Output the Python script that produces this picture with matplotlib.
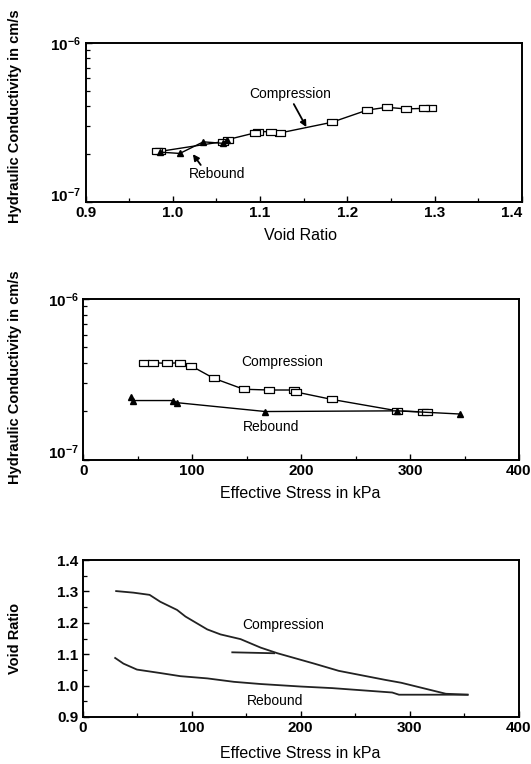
import matplotlib
matplotlib.use("Agg")
import matplotlib.pyplot as plt
from matplotlib.ticker import MultipleLocator, LogLocator, NullFormatter, FixedLocator, FixedFormatter

plt.rcParams['font.family'] = ['Liberation Sans', 'DejaVu Sans']
plt.rcParams['mathtext.fontset'] = 'custom'
plt.rcParams['mathtext.rm'] = 'Liberation Sans'
plt.rcParams['mathtext.bf'] = 'Liberation Sans:bold'

# --- hydraulic conductivity vs void ratio ---
vr_comp = [1.296, 1.288, 1.267, 1.245, 1.223, 1.182, 1.123, 1.113, 1.098, 1.094,
           1.063, 1.058, 0.985, 0.982]
k_vr_comp = [3.88e-7, 3.88e-7, 3.85e-7, 3.94e-7, 3.79e-7, 3.17e-7, 2.72e-7, 2.77e-7,
             2.77e-7, 2.72e-7, 2.47e-7, 2.40e-7, 2.08e-7, 2.08e-7]
vr_reb = [0.985, 1.008, 1.035, 1.057, 1.062]
k_vr_reb = [2.06e-7, 2.02e-7, 2.39e-7, 2.34e-7, 2.45e-7]

# --- hydraulic conductivity vs effective stress ---
st_comp = [56, 64, 77, 89, 99, 119.6, 147.2, 170.2, 193.2, 195.7, 227.9, 288.3, 311.5, 315.9]
k_st_comp = [4.01e-7, 4.01e-7, 3.97e-7, 4.01e-7, 3.83e-7, 3.21e-7, 2.74e-7, 2.71e-7,
             2.71e-7, 2.63e-7, 2.37e-7, 2.01e-7, 1.98e-7, 1.98e-7]
st_reb = [345.9, 288.3, 167.2, 85.9, 82.8, 46.0, 43.6]
k_st_reb = [1.92e-7, 2.01e-7, 1.99e-7, 2.26e-7, 2.33e-7, 2.33e-7, 2.46e-7]

# --- void ratio vs effective stress ---
e_st_comp = [30.7, 46.6, 61.4, 71.2, 86.6, 94.3, 114.3, 126.5, 144.9, 163.3, 178.8,
             212.5, 235.0, 278.0, 292.4, 333.3, 353.3]
e_comp = [1.301, 1.296, 1.289, 1.267, 1.241, 1.220, 1.179, 1.163, 1.148, 1.121, 1.103,
          1.070, 1.047, 1.018, 1.009, 0.974, 0.971]
e_st_reb = [353.3, 290.3, 284.1, 229.0, 200.3, 163.4, 138.8, 114.3, 89.7, 71.2, 49.8, 37.4, 29.8]
e_reb = [0.971, 0.971, 0.978, 0.992, 0.997, 1.005, 1.012, 1.023, 1.030, 1.040, 1.051, 1.070, 1.088]
e_st_reload = [137.3, 175.7]
e_reload = [1.106, 1.103]

W, H = 531, 764
fig = plt.figure(figsize=(W / 100, H / 100), dpi=100)


def box(l, r, t, b):
    return [l / W, 1 - b / H, (r - l) / W, (b - t) / H]


ax1 = fig.add_axes(box(85.5, 522, 43, 202))
ax2 = fig.add_axes(box(83.3, 519, 299, 459.5))
ax3 = fig.add_axes(box(82.7, 518.5, 560, 717))

rect = [(-1.7, -1), (1.7, -1), (1.7, 1), (-1.7, 1), (-1.7, -1)]
sq_kw = dict(color='black', lw=1.0, marker=rect, ms=7, mfc='white', mec='black', mew=0.9)
tri_kw = dict(color='black', lw=1.0, marker='^', ms=4.5, mfc='black', mec='black')


def style(ax):
    for s in ax.spines.values():
        s.set_linewidth(1.4)
    ax.tick_params(which='both', direction='in', top=False, right=False)
    ax.tick_params(which='major', length=4, width=1.0, pad=3)
    ax.tick_params(which='minor', length=3, width=0.9)
    for lab in ax.get_xticklabels() + ax.get_yticklabels():
        lab.set_fontsize(11)
        lab.set_fontweight('bold')


def log_axis(ax):
    ax.set_yscale('log')
    ax.set_ylim(1e-7, 1e-6)
    ax.yaxis.set_major_locator(FixedLocator([1e-7, 1e-6]))
    ax.yaxis.set_major_formatter(FixedFormatter([r'$\mathbf{10^{-7}}$', r'$\mathbf{10^{-6}}$']))
    ax.yaxis.set_minor_locator(LogLocator(base=10, subs=range(2, 10)))
    ax.yaxis.set_minor_formatter(NullFormatter())


def raise_bottom_label(ax):
    # lift the lowest y tick label so it clears the x tick labels
    ax.yaxis.get_major_ticks()[0].label1.set_verticalalignment('baseline')


note = dict(ha='center', va='center', fontsize=10)

# Panel 1
ax1.plot(vr_comp, k_vr_comp, **sq_kw, zorder=3)
ax1.plot(vr_reb, k_vr_reb, **tri_kw, zorder=4)
ax1.set_xlim(0.9, 1.4)
log_axis(ax1)
ax1.xaxis.set_major_locator(FixedLocator([0.9, 1.0, 1.1, 1.2, 1.3, 1.4]))
ax1.xaxis.set_minor_locator(MultipleLocator(0.05))
ax1.xaxis.set_major_formatter(plt.FuncFormatter(lambda v, p: f"{v:.1f}"))
ax1.text(1.134, 4.78e-7, 'Compression', **note)
ax1.text(1.051, 1.50e-7, 'Rebound', **note)
arrow = dict(arrowstyle='-|>', color='black', lw=1.3, mutation_scale=9, shrinkA=0, shrinkB=0)
ax1.annotate('', xy=(1.153, 2.96e-7), xytext=(1.1386, 4.13e-7), arrowprops=arrow)
ax1.annotate('', xy=(1.023, 2.0e-7), xytext=(1.032, 1.71e-7), arrowprops=arrow)
style(ax1)
raise_bottom_label(ax1)
# keep the last x label inside the figure edge
ax1.xaxis.get_major_ticks()[-1].label1.set_horizontalalignment('right')

# Panel 2
ax2.plot(st_comp, k_st_comp, **sq_kw, zorder=3)
ax2.plot(st_reb, k_st_reb, **tri_kw, zorder=4)
ax2.set_xlim(0, 400)
log_axis(ax2)
ax2.xaxis.set_major_locator(MultipleLocator(100))
ax2.xaxis.set_minor_locator(MultipleLocator(50))
ax2.text(182.5, 4.07e-7, 'Compression', **note)
ax2.text(172.2, 1.60e-7, 'Rebound', **note)
style(ax2)
raise_bottom_label(ax2)

# Panel 3
ax3.plot(e_st_comp, e_comp, color='#222222', lw=1.3)
ax3.plot(e_st_reb, e_reb, color='#222222', lw=1.3)
ax3.plot(e_st_reload, e_reload, color='#222222', lw=1.3)
ax3.set_xlim(0, 400)
ax3.set_ylim(0.9, 1.4)
ax3.xaxis.set_major_locator(MultipleLocator(100))
ax3.xaxis.set_minor_locator(MultipleLocator(50))
ax3.yaxis.set_major_locator(MultipleLocator(0.1))
ax3.yaxis.set_minor_locator(MultipleLocator(0.05))
ax3.yaxis.set_major_formatter(plt.FuncFormatter(lambda v, p: f"{v:.1f}"))
ax3.text(184.3, 1.192, 'Compression', **note)
ax3.text(176.3, 0.950, 'Rebound', **note)
style(ax3)

# Axis titles
ylab = dict(rotation=90, ha='center', va='center', fontsize=10.5, fontweight='bold')
fig.text(15 / W, 1 - 116 / H, 'Hydraulic Conductivity in cm/s', **ylab)
fig.text(15 / W, 1 - 377 / H, 'Hydraulic Conductivity in cm/s', **ylab)
fig.text(15 / W, 1 - 638 / H, 'Void Ratio', **ylab)
xlab = dict(ha='center', va='center', fontsize=11.5)
fig.text(300 / W, 1 - 236 / H, 'Void Ratio', **xlab)
fig.text(300 / W, 1 - 493 / H, 'Effective Stress in kPa', **xlab)
fig.text(300 / W, 1 - 753 / H, 'Effective Stress in kPa', **xlab)

fig.savefig('out.png', dpi=100)
